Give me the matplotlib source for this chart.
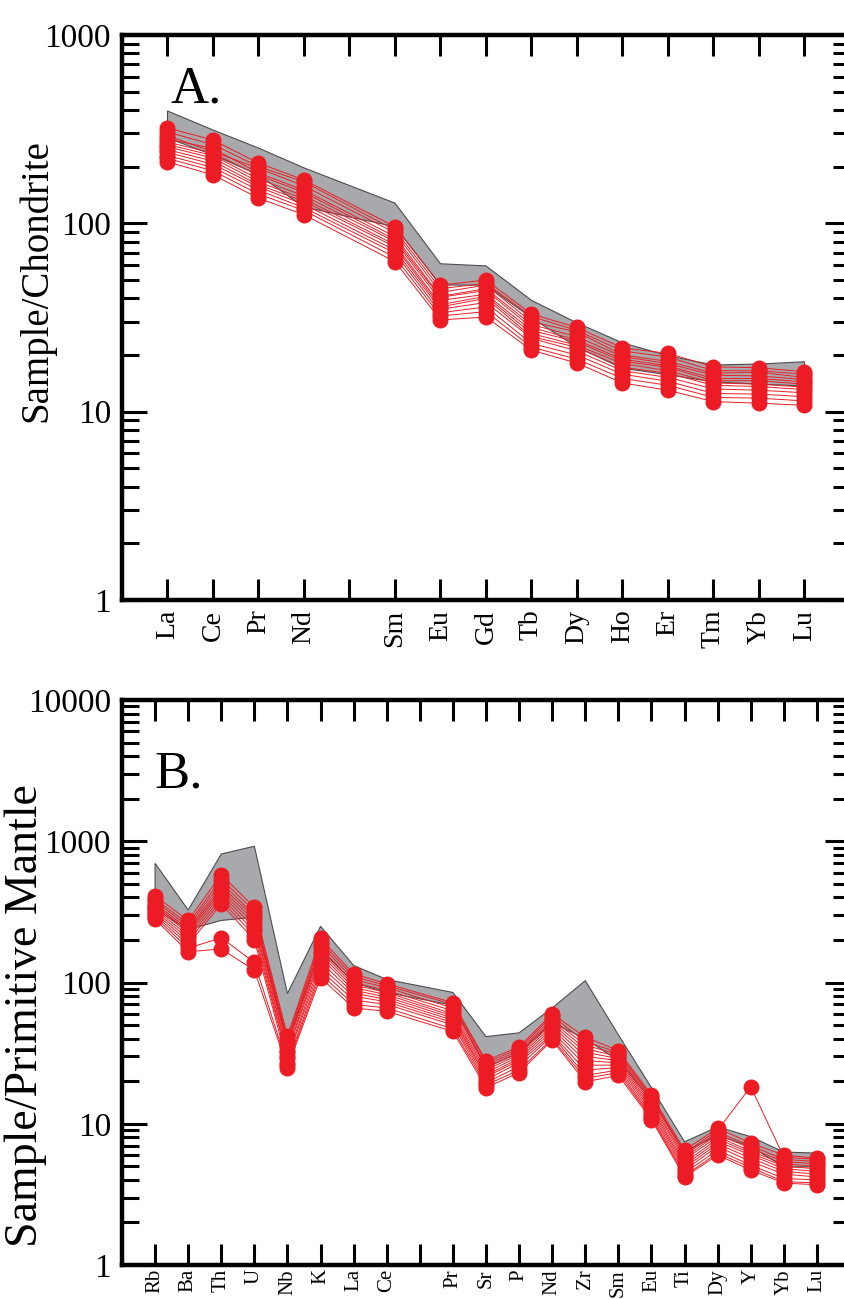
import numpy as np
import matplotlib
matplotlib.use("Agg")
import matplotlib.pyplot as plt
from matplotlib.ticker import LogLocator, NullFormatter, FixedLocator, FixedFormatter

plt.rcParams['font.family'] = ['Liberation Serif', 'DejaVu Serif']

RED = '#ed1c24'
GRAY = '#a7a9ac'

# ---- panel A: REE normalised to chondrite ----
ree = ['La', 'Ce', 'Pr', 'Nd', 'Sm', 'Eu', 'Gd', 'Tb', 'Dy', 'Ho', 'Er', 'Tm', 'Yb', 'Lu']
ree_pos = [0, 1, 2, 3, 5, 6, 7, 8, 9, 10, 11, 12, 13, 14]

ree_field_hi = [395, 313, 251, 197, 128, 61, 59.4, 39, 29.6, 23.2, 19.8, 17.7, 17.9, 18.4]
ree_field_lo = [284, 231, 181, 122, 96, 47, 47, 31.5, 22, 17, 15.7, 14.4, 14, 13.7]

ree_samples = [
    [321, 277, 209, 170, 96, 47, 50, 33, 28, 21.8, 20.4, 17.3, 17.1, 16.3],
    [305, 262, 200, 166, 92, 45, 48, 32, 27, 21, 19.5, 16.5, 16.5, 15.8],
    [292, 240, 196, 158, 89, 43, 47, 30, 26.5, 20, 18.5, 16, 16.2, 15.2],
    [280, 250, 185, 150, 85, 41, 45, 29, 25, 19.6, 18, 15.6, 15.5, 14.8],
    [270, 236, 180, 146, 82, 40.5, 44, 28, 24, 19, 17.5, 15, 15, 14.4],
    [262, 229, 172, 140, 80, 39, 42, 27, 23.5, 18.5, 17.2, 14.6, 14.6, 14],
    [255, 222, 166, 135, 77, 37, 41, 26, 22.5, 18, 16.5, 14.2, 14, 13.5],
    [246, 214, 160, 131, 75, 36, 40, 25, 22, 17.2, 16, 13.8, 13.6, 13.1],
    [238, 206, 156, 126, 72, 35, 38, 24.5, 21, 16.5, 15.2, 13.2, 13, 12.6],
    [229, 198, 150, 121, 69.5, 33.5, 36, 23, 20, 15.8, 14.5, 12.5, 12.4, 12],
    [221, 190, 143, 117, 66, 32.2, 34, 22, 19, 15, 13.8, 11.9, 11.8, 11.4],
    [212, 181, 136, 111, 62.6, 30.7, 31.8, 21.2, 18.1, 14.2, 13, 11.3, 11.1, 10.8],
]

# ---- panel B: multi-element, primitive mantle ----
spider = ['Rb', 'Ba', 'Th', 'U', 'Nb', 'K', 'La', 'Ce', 'Pr', 'Sr', 'P', 'Nd', 'Zr',
          'Sm', 'Eu', 'Ti', 'Dy', 'Y', 'Yb', 'Lu']
spider_pos = [0, 1, 2, 3, 4, 5, 6, 7, 9, 10, 11, 12, 13, 14, 15, 16, 17, 18, 19, 20]

spider_field_hi = [698, 326, 812, 922, 83.5, 250, 132, 105, 85, 41.4, 44, 66, 103,
                   42.6, 18, 7.45, 9.5, 8.1, 6.3, 6.2]
spider_field_lo = [330, 237, 275, 290, 38, 170, 100, 85, 69, 25, 31.8, 52, 40,
                   28, 14.8, 6.3, 8.3, 6.9, 4.95, 4.95]

spider_samples = [
    [410, 275, 580, 340, 42, 205, 115, 98, 72, 28, 35, 60, 41, 33, 16, 6.5, 9.3, 7.3, 6.0, 5.7],
    [390, 260, 540, 320, 40, 195, 110, 95, 70, 27, 34, 58, 38, 32, 15.5, 6.2, 9.0, 18.3, 5.8, 5.6],
    [375, 250, 510, 300, 38, 185, 105, 92, 66, 26, 33, 55, 36, 31, 15, 6.0, 8.7, 7.0, 5.6, 5.4],
    [360, 240, 480, 290, 36, 175, 100, 88, 63, 25, 32, 53, 34, 30, 14.3, 5.8, 8.4, 6.7, 5.4, 5.2],
    [350, 232, 460, 275, 35, 165, 96, 85, 60, 24, 31, 51, 32, 29, 13.8, 5.6, 8.1, 6.4, 5.2, 5.0],
    [340, 225, 440, 260, 33, 158, 92, 82, 58, 23, 30, 49, 30, 28, 13.3, 5.3, 7.8, 6.2, 5.0, 4.8],
    [330, 215, 420, 245, 32, 150, 88, 79, 56, 22, 29, 47, 28, 27, 12.8, 5.1, 7.5, 6.0, 4.8, 4.6],
    [320, 205, 400, 230, 30, 140, 84, 76, 54, 21.5, 28, 45, 26, 26, 12.3, 4.9, 7.2, 5.7, 4.6, 4.4],
    [310, 195, 380, 215, 29, 130, 80, 73, 52, 20.5, 27, 43, 24, 25, 11.8, 4.7, 6.9, 5.4, 4.4, 4.2],
    [300, 185, 360, 200, 27, 122, 75, 70, 50, 19.5, 25.5, 42, 22, 24, 11.3, 4.5, 6.5, 5.1, 4.1, 4.0],
    [290, 175, 207, 139, 26, 115, 70, 66, 47, 18.8, 24, 40, 21, 23, 11.0, 4.3, 6.2, 4.9, 3.9, 3.8],
    [280, 165, 173, 122, 25, 108, 66, 62.6, 45, 18, 23, 39, 19.8, 22, 10.7, 4.2, 6.0, 4.7, 3.8, 3.7],
]

W, H = 845, 1299
fig = plt.figure(figsize=(W / 100, H / 100), dpi=100)


def make_axes(top_px, bottom_px, left_px=122, right_px=850):
    return fig.add_axes([left_px / W, 1 - bottom_px / H,
                         (right_px - left_px) / W, (bottom_px - top_px) / H])


def draw_panel(ax, pos, names, hi, lo, samples, ntick, ylim, letter, letter_xy,
               ylabel, ylab_xy, ylab_size, xlab_size, xlab_pad):
    pos = np.array(pos)
    ax.fill(np.r_[pos, pos[::-1]], np.r_[hi, lo[::-1]], facecolor=GRAY,
            edgecolor='#4d4d4d', linewidth=0.8, zorder=1)
    for s in samples:
        ax.plot(pos, s, color=RED, lw=0.7, zorder=2)
    for s in samples:
        ax.plot(pos, s, 'o', color=RED, ms=11.5, mec='none', zorder=3)
    ax.set_yscale('log')
    ax.set_ylim(*ylim)
    ax.set_xlim(-1, ntick)
    ax.xaxis.set_major_locator(FixedLocator(range(ntick)))
    lab = [''] * ntick
    for p, n in zip(pos, names):
        lab[p] = n
    ax.xaxis.set_major_formatter(FixedFormatter(lab))
    ax.yaxis.set_minor_locator(LogLocator(base=10, subs=np.arange(2, 10)))
    ax.yaxis.set_minor_formatter(NullFormatter())
    ticks = [10.0 ** k for k in range(int(np.log10(ylim[0])), int(np.log10(ylim[1])) + 1)]
    ax.set_yticks(ticks)
    ax.set_yticklabels(['%d' % t for t in ticks])
    ax.tick_params(axis='x', which='major', direction='in', length=15, width=2.2,
                   top=True, bottom=True, labelsize=xlab_size, labelrotation=90, pad=xlab_pad)
    ax.tick_params(axis='y', which='major', direction='in', length=18, width=2.2,
                   left=True, right=True, labelsize=24, pad=8)
    ax.tick_params(axis='y', which='minor', direction='in', length=12, width=2.2,
                   left=True, right=True)
    for sp in ax.spines.values():
        sp.set_linewidth(3.2)
    ax.text(letter_xy[0], letter_xy[1], letter, transform=ax.transAxes, fontsize=38,
            ha='left', va='baseline')
    ax.set_ylabel(ylabel, fontsize=ylab_size)
    ax.yaxis.set_label_coords(*ylab_xy)


axA = make_axes(35, 600)
draw_panel(axA, ree_pos, ree, np.array(ree_field_hi), np.array(ree_field_lo), ree_samples,
           15, (1, 1000), 'A.', (0.066, 0.88), 'Sample/Chondrite', (-0.092, 0.566), 28, 20, 7)

axB = make_axes(700, 1265)
draw_panel(axB, spider_pos, spider, np.array(spider_field_hi), np.array(spider_field_lo),
           spider_samples, 21, (1, 10000), 'B.', (0.045, 0.846), 'Sample/Primitive Mantle',
           (-0.103, 0.442), 33, 15, 3)

fig.savefig('out.png', dpi=100)
